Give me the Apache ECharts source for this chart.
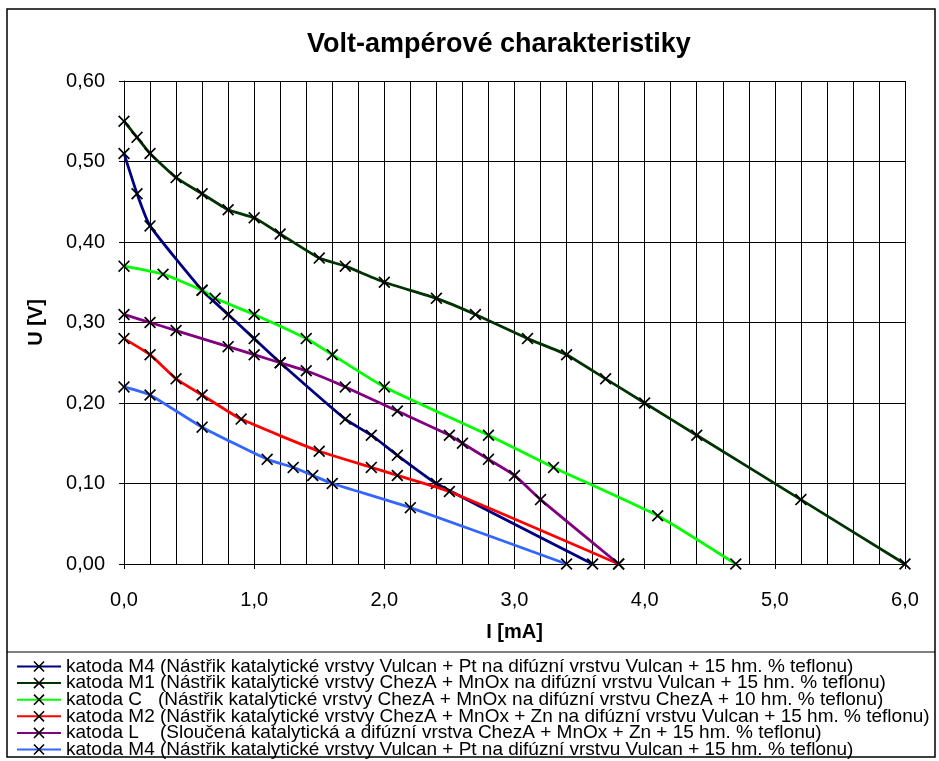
<!DOCTYPE html>
<html>
<head>
<meta charset="utf-8">
<script src="https://cdn.jsdelivr.net/npm/echarts@6/dist/echarts.min.js"></script>
<style>html,body{margin:0;padding:0;background:#fff;}#c{width:939px;height:761px;}</style>
</head>
<body>
<div id="c"></div>
<script>
const titleText = 'Volt-ampérové charakteristiky';
const xName = 'I [mA]';
const yName = 'U [V]';

const names = [
  'katoda M4 (Nástřik katalytické vrstvy Vulcan + Pt na difúzní vrstvu Vulcan + 15 hm. % teflonu)',
  'katoda M1 (Nástřik katalytické vrstvy ChezA + MnOx na difúzní vrstvu Vulcan + 15 hm. % teflonu)',
  'katoda C   (Nástřik katalytické vrstvy ChezA + MnOx na difúzní vrstvu ChezA + 10 hm. % teflonu)',
  'katoda M2 (Nástřik katalytické vrstvy ChezA + MnOx + Zn na difúzní vrstvu Vulcan + 15 hm. % teflonu)',
  'katoda L    (Sloučená katalytická a difúzní vrstva ChezA + MnOx + Zn + 15 hm. % teflonu)',
  'katoda M4 (Nástřik katalytické vrstvy Vulcan + Pt na difúzní vrstvu Vulcan + 15 hm. % teflonu) '
];
const colors = ['#000080', '#003300', '#00FF00', '#FF0000', '#800080', '#3366FF'];

const m4aI = [0, 0.1, 0.2, 0.6, 0.8, 1.0, 1.2, 1.7, 1.9, 2.1, 2.4, 3.6];
const m4aU = [0.51, 0.46, 0.42, 0.34, 0.31, 0.28, 0.25, 0.18, 0.16, 0.135, 0.10, 0.00];

const m1I = [0, 0.1, 0.2, 0.4, 0.6, 0.8, 1.0, 1.2, 1.5, 1.7, 2.0, 2.4, 2.7, 3.1, 3.4, 3.7, 4.0, 4.4, 5.2, 6.0];
const m1U = [0.55, 0.53, 0.51, 0.48, 0.46, 0.44, 0.43, 0.41, 0.38, 0.37, 0.35, 0.33, 0.31, 0.28, 0.26, 0.23, 0.20, 0.16, 0.08, 0.00];

const cI = [0, 0.3, 0.6, 0.7, 1.0, 1.4, 1.6, 2.0, 2.8, 3.3, 4.1, 4.7];
const cU = [0.37, 0.36, 0.34, 0.33, 0.31, 0.28, 0.26, 0.22, 0.16, 0.12, 0.06, 0.00];

const m2I = [0, 0.2, 0.4, 0.6, 0.9, 1.5, 1.9, 2.1, 2.5, 3.8];
const m2U = [0.28, 0.26, 0.23, 0.21, 0.18, 0.14, 0.12, 0.11, 0.09, 0.00];

const lI = [0, 0.2, 0.4, 0.8, 1.0, 1.2, 1.4, 1.7, 2.1, 2.5, 2.6, 2.8, 3.0, 3.2, 3.8];
const lU = [0.31, 0.30, 0.29, 0.27, 0.26, 0.25, 0.24, 0.22, 0.19, 0.16, 0.15, 0.13, 0.11, 0.08, 0.00];

const m4bI = [0, 0.2, 0.6, 1.1, 1.3, 1.45, 1.6, 2.2, 3.4];
const m4bU = [0.22, 0.21, 0.17, 0.13, 0.12, 0.11, 0.10, 0.07, 0.00];

const seriesX = [m4aI, m1I, cI, m2I, lI, m4bI];
const seriesY = [m4aU, m1U, cU, m2U, lU, m4bU];

const font = "'Liberation Sans', Arial, sans-serif";
const cross = 'path://M0,1 L1,0 L5,4 L9,0 L10,1 L6,5 L10,9 L9,10 L5,6 L1,10 L0,9 L4,5 Z';

const chart = echarts.init(document.getElementById('c'));
chart.setOption({
  backgroundColor: '#fff',
  animation: false,
  title: {
    text: titleText, left: 302, top: 26,
    textStyle: { fontFamily: font, fontWeight: 'bold', fontSize: 27, color: '#000' }
  },
  grid: { left: 124, right: 34, top: 81, bottom: 197 },
  legend: {
    orient: 'vertical', left: 16, top: 657, height: 110, itemWidth: 44, itemHeight: 14, itemGap: -2.4,
    padding: 0,
    textStyle: { fontFamily: font, fontSize: 19, color: '#000' },
    data: names
  },
  xAxis: {
    type: 'value', min: 0, max: 6, interval: 1,
    name: xName, nameLocation: 'middle', nameGap: 58,
    nameTextStyle: { fontFamily: font, fontWeight: 'bold', fontSize: 20, color: '#000' },
    axisLine: { onZero: false, lineStyle: { color: '#000', width: 1 } },
    axisTick: { show: true, inside: false, length: 5, lineStyle: { color: '#000' } },
    axisLabel: { margin: 26, fontFamily: font, fontSize: 20, color: '#000', formatter: v => v.toFixed(1).replace('.', ',') },
    splitLine: { show: true, lineStyle: { color: '#000', width: 1 } },
    minorSplitLine: { show: true, lineStyle: { color: '#000', width: 1 } },
    minorTick: { show: false, splitNumber: 5 }
  },
  yAxis: {
    type: 'value', min: 0, max: 0.6, interval: 0.1,
    name: yName, nameLocation: 'middle', nameGap: 78, nameRotate: 90,
    nameTextStyle: { fontFamily: font, fontWeight: 'bold', fontSize: 20, color: '#000' },
    axisLine: { show: true, lineStyle: { color: '#000', width: 1 } },
    axisTick: { show: true, inside: false, length: 5, lineStyle: { color: '#000' } },
    axisLabel: { margin: 19, fontFamily: font, fontSize: 20, color: '#000', formatter: v => v.toFixed(2).replace('.', ',') },
    splitLine: { show: true, lineStyle: { color: '#000', width: 1 } }
  },
  series: names.map((n, i) => ({
    name: n, type: 'line',
    data: seriesX[i].map((x, j) => [x, seriesY[i][j]]),
    smooth: 0.15,
    symbol: cross, symbolSize: 12, showSymbol: true,
    lineStyle: { color: colors[i], width: 2.8 },
    itemStyle: { color: '#000' },
    z: 2 + i
  })),
  graphic: [
    { type: 'rect', shape: { x: 7, y: 9, width: 928, height: 748 }, style: { fill: 'none', stroke: '#000', lineWidth: 1.5 }, z: 100 },
    { type: 'line', shape: { x1: 7, y1: 652, x2: 935, y2: 652 }, style: { stroke: '#000', lineWidth: 1.2 }, z: 100 }
  ]
});
</script>
</body>
</html>
